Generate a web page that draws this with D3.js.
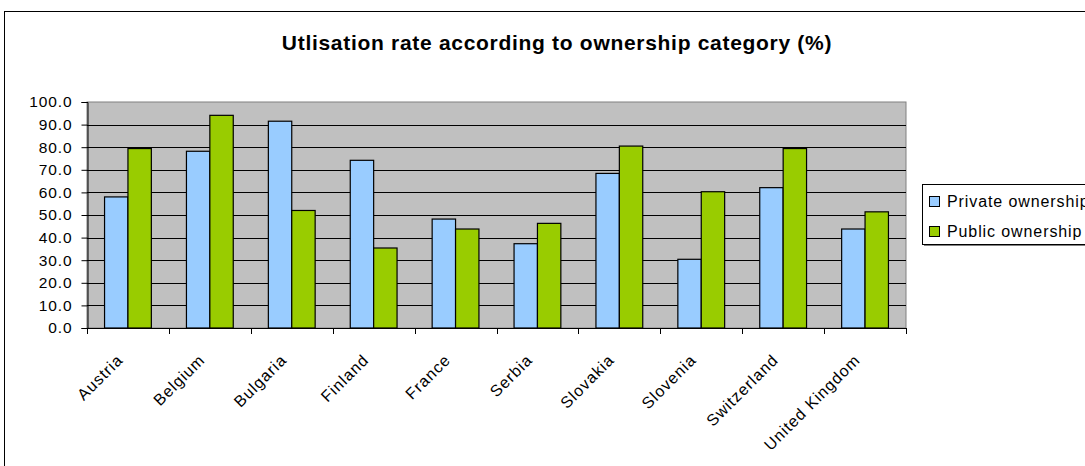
<!DOCTYPE html>
<html>
<head>
<meta charset="utf-8">
<script src="https://cdn.jsdelivr.net/npm/d3@7"></script>
<style>
  html, body { margin: 0; padding: 0; background: #fff; }
  svg { display: block; font-family: "Liberation Sans", Arial, sans-serif; }
</style>
</head>
<body>
<svg id="chart" width="1085" height="466"></svg>
<script>
// Utilisation rate (%) by country and ownership category
const countries = ["Austria", "Belgium", "Bulgaria", "Finland", "France", "Serbia",
                   "Slovakia", "Slovenia", "Switzerland", "United Kingdom"];
const privateOwnership = [58.0, 78.2, 91.5, 74.2, 48.2, 37.3, 68.4, 30.4, 62.1, 43.8];
const publicOwnership  = [79.4, 94.1, 52.0, 35.4, 43.8, 46.3, 80.5, 60.3, 79.4, 51.4];
const seriesNames = ["Private ownership", "Public ownership"];
const seriesColors = ["#99CCFF", "#99CC00"];
const yTicks = [0, 10, 20, 30, 40, 50, 60, 70, 80, 90, 100];

const svg = d3.select("#chart");

// outer chart frame
svg.append("rect")
  .attr("x", 4.5).attr("y", 11.5)
  .attr("width", 1200).attr("height", 600)
  .attr("fill", "#fff").attr("stroke", "#000").attr("stroke-width", 1);

const plot = { left: 87, right: 906, top: 102, bottom: 328 };

const x = d3.scaleBand()
  .domain(countries)
  .range([plot.left, plot.right])
  .paddingInner(0).paddingOuter(0);

const x1 = d3.scaleBand()
  .domain(seriesNames)
  .range([0, x.bandwidth()])
  .paddingInner(0)
  .paddingOuter(0.75);

const y = d3.scaleLinear().domain([0, 100]).range([plot.bottom, plot.top]);

// plot background
svg.append("rect")
  .attr("x", plot.left).attr("y", plot.top)
  .attr("width", plot.right - plot.left).attr("height", plot.bottom - plot.top)
  .attr("fill", "#C0C0C0").attr("stroke", "#808080").attr("stroke-width", 1);

// horizontal gridlines
svg.append("g")
  .selectAll("line")
  .data(yTicks.filter(t => t > 0 && t < 100))
  .join("line")
  .attr("x1", plot.left).attr("x2", plot.right)
  .attr("y1", d => Math.round(y(d)) + 0.5).attr("y2", d => Math.round(y(d)) + 0.5)
  .attr("stroke", "#000").attr("stroke-width", 1);

// bars
const rows = countries.map((c, i) => ({
  country: c,
  values: [privateOwnership[i], publicOwnership[i]]
}));

const groups = svg.append("g")
  .selectAll("g")
  .data(rows)
  .join("g")
  .attr("transform", d => `translate(${x(d.country)},0)`);

groups.selectAll("rect")
  .data(d => d.values.map((v, j) => ({ series: seriesNames[j], value: v, color: seriesColors[j] })))
  .join("rect")
  .attr("x", d => x1(d.series))
  .attr("y", d => y(d.value))
  .attr("width", x1.bandwidth())
  .attr("height", d => y(0) - y(d.value))
  .attr("fill", d => d.color)
  .attr("stroke", "#000")
  .attr("stroke-width", 1.2);

// y axis
const yAxis = d3.axisLeft(y)
  .tickValues(yTicks)
  .tickFormat(d3.format(".1f"))
  .tickSize(6)
  .tickPadding(9);

const gy = svg.append("g")
  .attr("transform", `translate(${plot.left + 0.5},0)`)
  .call(yAxis);
gy.select(".domain").attr("stroke", "#000");
gy.selectAll(".tick line").attr("stroke", "#000");
gy.selectAll(".tick text")
  .attr("font-size", 15.5).attr("fill", "#000")
  .attr("letter-spacing", 0.9)
  .attr("font-family", "Liberation Sans, Arial, sans-serif");

// x axis line and ticks at category boundaries
const boundaries = countries.map(c => x(c)).concat([plot.right]);
svg.append("line")
  .attr("x1", plot.left).attr("x2", plot.right)
  .attr("y1", plot.bottom + 0.5).attr("y2", plot.bottom + 0.5)
  .attr("stroke", "#000").attr("stroke-width", 1.2);
svg.append("g")
  .selectAll("line")
  .data(boundaries)
  .join("line")
  .attr("x1", d => Math.round(d) + 0.5).attr("x2", d => Math.round(d) + 0.5)
  .attr("y1", plot.bottom).attr("y2", plot.bottom + 6)
  .attr("stroke", "#000");

// rotated category labels
svg.append("g")
  .selectAll("text")
  .data(countries)
  .join("text")
  .attr("transform", d => `translate(${x(d) + x.bandwidth() / 2 - 4},${plot.bottom + 33}) rotate(-45)`)
  .attr("text-anchor", "end")
  .attr("font-size", 16)
  .attr("letter-spacing", 1)
  .attr("fill", "#000")
  .text(d => d);

// title
svg.append("text")
  .attr("x", 557).attr("y", 50)
  .attr("text-anchor", "middle")
  .attr("font-size", 21)
  .attr("letter-spacing", 0.7)
  .attr("font-weight", "bold")
  .attr("fill", "#000")
  .text("Utlisation rate according to ownership category (%)");

// legend
const legend = svg.append("g").attr("transform", "translate(922,184)");
legend.append("rect")
  .attr("x", 2).attr("y", 2).attr("width", 200).attr("height", 60)
  .attr("fill", "#808080");
legend.append("rect")
  .attr("x", 0.5).attr("y", 0.5).attr("width", 200).attr("height", 60)
  .attr("fill", "#fff").attr("stroke", "#000");
const items = legend.selectAll("g.item")
  .data(seriesNames)
  .join("g")
  .attr("class", "item")
  .attr("transform", (d, i) => `translate(0,${17 + i * 30})`);
items.append("rect")
  .attr("x", 7.5).attr("y", -4.5).attr("width", 10).attr("height", 10)
  .attr("fill", (d, i) => seriesColors[i]).attr("stroke", "#000");
items.append("text")
  .attr("x", 25).attr("y", 6)
  .attr("font-size", 16).attr("letter-spacing", 0.9).attr("fill", "#000")
  .text(d => d);
</script>
</body>
</html>
